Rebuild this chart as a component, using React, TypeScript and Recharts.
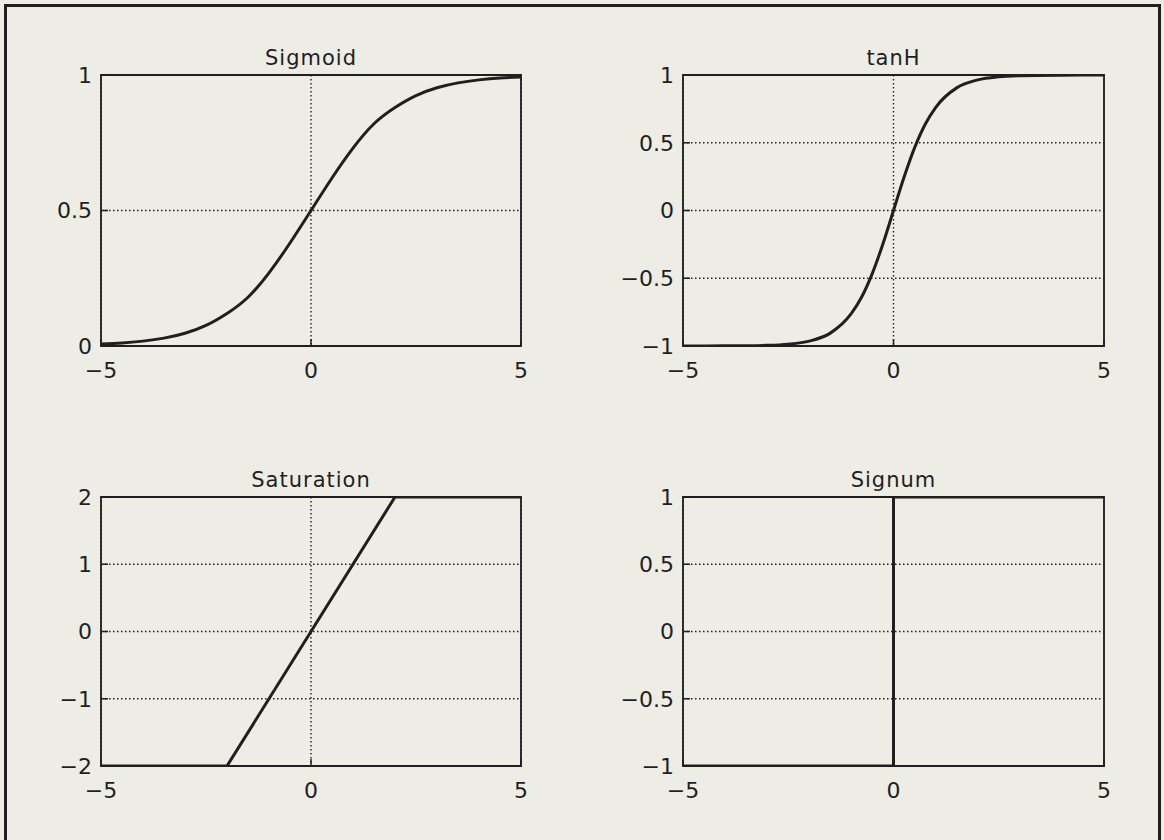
import React from 'react';
import { LineChart, Line, XAxis, YAxis, CartesianGrid, ReferenceArea } from 'recharts';

// ---- data ----
const sigmoidX = [-5, -4.5, -4, -3.5, -3, -2.5, -2, -1.5, -1, -0.5, 0, 0.5, 1, 1.5, 2, 2.5, 3, 3.5, 4, 4.5, 5];
const sigmoidY = [0.007, 0.011, 0.018, 0.029, 0.047, 0.076, 0.12, 0.18, 0.27, 0.38, 0.5, 0.62, 0.73, 0.82, 0.88, 0.924, 0.953, 0.971, 0.982, 0.989, 0.993];

const tanhX = [-5, -4, -3, -2.5, -2, -1.5, -1, -0.75, -0.5, -0.25, 0, 0.25, 0.5, 0.75, 1, 1.5, 2, 2.5, 3, 4, 5];
const tanhY = [-1, -0.999, -0.995, -0.987, -0.964, -0.905, -0.76, -0.635, -0.462, -0.245, 0, 0.245, 0.462, 0.635, 0.76, 0.905, 0.964, 0.987, 0.995, 0.999, 1];

const satX = [-5, -2, 2, 5];
const satY = [-2, -2, 2, 2];

const signX = [-5, 0, 0, 5];
const signY = [-1, -1, 1, 1];

const xTicks = [-5, 0, 5];
const sigmoidTicks = [0, 0.5, 1];
const tanhTicks = [-1, -0.5, 0, 0.5, 1];
const satTicks = [-2, -1, 0, 1, 2];
const signTicks = [-1, -0.5, 0, 0.5, 1];

const titles = ['Sigmoid', 'tanH', 'Saturation', 'Signum'];

const BG = '#edece5';
const INK = '#1f1f1f';
const FONT = '"DejaVu Sans", "Liberation Sans", sans-serif';

const zip = (xs: number[], ys: number[]) => xs.map((x, i) => ({ x, y: ys[i] }));
const fmt = (v: number) => String(v).replace('-', '\u2212');

type PanelProps = {
  title: string;
  data: { x: number; y: number }[];
  yTicks: number[];
  curve: 'natural' | 'monotone' | 'linear';
  boxLeft: number;
  boxTop: number;
  boxW: number;
  boxH: number;
};

function Panel({ title, data, yTicks, curve, boxLeft, boxTop, boxW, boxH }: PanelProps) {
  const yAxisW = 80;
  const padTop = 24;
  const padRight = 24;
  const xAxisH = 50;
  const W = yAxisW + boxW + padRight;
  const H = padTop + boxH + xAxisH;
  const yMin = yTicks[0];
  const yMax = yTicks[yTicks.length - 1];
  const tickStyle = { fontSize: 22, fill: INK, fontFamily: FONT };
  return (
    <>
      <div
        style={{
          position: 'absolute',
          left: boxLeft,
          width: boxW,
          top: boxTop - 29,
          lineHeight: '24px',
          textAlign: 'center',
          fontFamily: FONT,
          fontSize: 21,
          letterSpacing: 1,
          color: INK,
        }}
      >
        {title}
      </div>
      <div style={{ position: 'absolute', left: boxLeft - yAxisW, top: boxTop - padTop }}>
        <LineChart width={W} height={H} data={data} margin={{ top: padTop, right: padRight, left: 0, bottom: 0 }}>
          <CartesianGrid stroke={INK} strokeDasharray="1.5 2.5" strokeWidth={1.4} />
          <XAxis
            dataKey="x"
            type="number"
            domain={[-5, 5]}
            ticks={xTicks}
            height={xAxisH}
            axisLine={false}
            tickLine={{ stroke: INK, strokeWidth: 1.5 }}
            tickSize={-7}
            tickMargin={23}
            tickFormatter={fmt}
            tick={tickStyle}
            interval={0}
          />
          <YAxis
            type="number"
            domain={[yMin, yMax]}
            ticks={yTicks}
            width={yAxisW}
            axisLine={false}
            tickLine={{ stroke: INK, strokeWidth: 1.5 }}
            tickSize={-7}
            tickMargin={16}
            tickFormatter={fmt}
            tick={tickStyle}
            interval={0}
            allowDataOverflow
          />
          <ReferenceArea
            x1={-5}
            x2={5}
            y1={yMin}
            y2={yMax}
            fill="none"
            fillOpacity={0}
            stroke={INK}
            strokeWidth={1.8}
            ifOverflow="visible"
          />
          <Line
            dataKey="y"
            type={curve}
            stroke={INK}
            strokeWidth={3}
            dot={false}
            activeDot={false}
            isAnimationActive={false}
          />
        </LineChart>
      </div>
    </>
  );
}

export default function App() {
  return (
    <div
      style={{
        position: 'absolute',
        left: 0,
        top: 0,
        width: 1164,
        height: 840,
        background: BG,
        overflow: 'hidden',
      }}
    >
      <div
        style={{
          position: 'absolute',
          left: 4,
          top: 4,
          width: 1151,
          height: 900,
          border: `3px solid ${INK}`,
        }}
      />
      <Panel title={titles[0]} data={zip(sigmoidX, sigmoidY)} yTicks={sigmoidTicks} curve="natural" boxLeft={101} boxTop={75} boxW={420} boxH={271} />
      <Panel title={titles[1]} data={zip(tanhX, tanhY)} yTicks={tanhTicks} curve="monotone" boxLeft={683} boxTop={75} boxW={421} boxH={271} />
      <Panel title={titles[2]} data={zip(satX, satY)} yTicks={satTicks} curve="linear" boxLeft={101} boxTop={497} boxW={420} boxH={269} />
      <Panel title={titles[3]} data={zip(signX, signY)} yTicks={signTicks} curve="linear" boxLeft={683} boxTop={497} boxW={421} boxH={269} />
    </div>
  );
}
